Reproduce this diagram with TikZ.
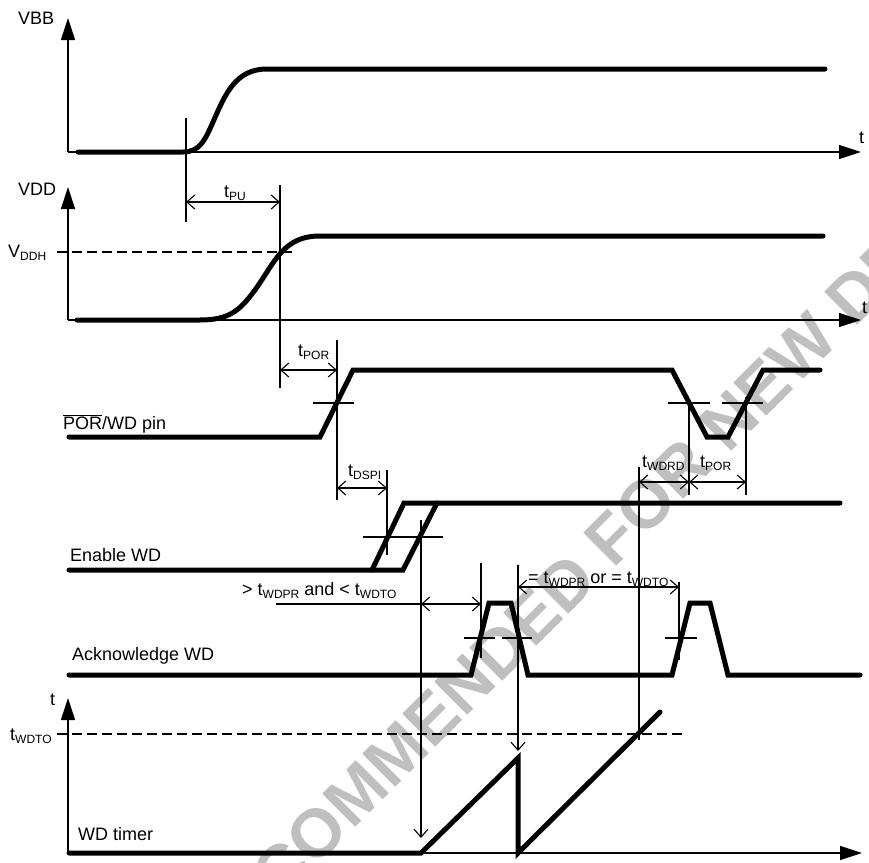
\documentclass[tikz,border=0pt]{standalone}
\usepackage{fontspec}
\setmainfont{Liberation Sans}
\usetikzlibrary{arrows.meta}

\newcommand{\lowsub}[1]{\raisebox{-3pt}{\fontsize{12}{12}\selectfont #1}}
\newcommand{\tsub}[1]{t\lowsub{#1}}

\begin{document}
\begin{tikzpicture}[x=1pt, y=-1pt,
    signal/.style={line width=5pt, line cap=round, line join=miter},
    axis/.style={line width=1.3pt, -{Triangle[length=22pt, width=14pt]}},
    guide/.style={line width=1.1pt},
    dim/.style={line width=1.1pt, {Straight Barb[length=8pt, width=14pt]}-{Straight Barb[length=8pt, width=14pt]}},
    drop/.style={line width=1.1pt, -{Straight Barb[length=8pt, width=14pt]}},
    level/.style={line width=2pt, dash pattern=on 10pt off 5pt},
    lbl/.style={anchor=base west, inner sep=0pt, font=\fontsize{18}{21}\selectfont}
]
    \useasboundingbox (0,0) rectangle (869,862);

    % Watermark
    \begin{scope}
        \clip (0,0) rectangle (869,862);
        \node[rotate=45, text=black!25, font=\fontsize{68}{68}\selectfont\bfseries] (wmark) at (552,598) {NOT RECOMMENDED FOR NEW DESIGN};
    \end{scope}

    % Axes
    \coordinate (o1) at (68,152);
    \coordinate (o2) at (68,320);
    \coordinate (o3) at (68,853);
    \draw[axis] (o1) -- (68,18);
    \draw[axis] (o1) -- (861,152);
    \draw[axis] (o2) -- (68,187);
    \draw[axis] (o2) -- (861,320);
    \draw[axis] (o3) -- (68,698);
    \draw[axis] (o3) -- (862,853);

    \node[lbl] (vbb) at (18,24) {VBB};
    \node[lbl] (vdd) at (18,195) {VDD};
    \node[lbl] (vddh) at (8,257) {V\lowsub{DDH}};
    \node[lbl] (t-vbb) at (859,143) {t};
    \node[lbl] (t-vdd) at (862,313) {t};
    \node[lbl] (t-tmr) at (50,705) {t};
    \node[lbl] (wdto) at (10,740) {\tsub{WDTO}};

    % Thresholds
    \draw[level] (57,252) -- (295,252);
    \draw[level] (57,734) -- (686,734);

    % Signals
    \draw[signal] (78,152) -- (183,152) .. controls (200,152) and (205,140) .. (213,122)
        .. controls (225,95) and (235,69) .. (267,69) -- (825,69);
    \draw[signal] (77,320) -- (200,320) .. controls (230,320) and (240,310) .. (255,290)
        .. controls (275,262) and (283,236) .. (320,236) -- (823,236);
    \draw[signal] (69,437) -- (320,437) -- (353,370) -- (672,370) -- (707,437)
        -- (728,437) -- (763,370) -- (820,370);
    \draw[signal] (69,570) -- (403,570) -- (437,503);
    \draw[signal] (372,570) -- (404,503) -- (840,503);
    \draw[signal] (69,675) -- (471,675) -- (489,603) -- (511,603) -- (528,675)
        -- (672,675) -- (690,603) -- (710,603) -- (728,675) -- (860,675);
    \draw[signal] (69,853) -- (421,853) -- (518,758) -- (518,853) -- (660,712);

    \node[lbl] (por-pin) at (63,429) {$\overline{\mbox{POR}}$/WD pin};
    \node[lbl] (en-wd) at (70,561) {Enable WD};
    \node[lbl] (ack-wd) at (72,660) {Acknowledge WD};
    \node[lbl] (wd-tmr) at (78,840) {WD timer};

    % Power-up timing
    \coordinate (pu-top) at (186,118);  \coordinate (pu-bot) at (186,222);
    \coordinate (vh-top) at (280,185);  \coordinate (vh-bot) at (280,388);
    \coordinate (pu-a) at (186,202);    \coordinate (pu-b) at (280,202);
    \draw[guide] (pu-top) -- (pu-bot);
    \draw[guide] (vh-top) -- (vh-bot);
    \draw[dim] (pu-a) -- (pu-b);
    \node[lbl] (t-pu) at (224,197) {\tsub{PU}};

    % Reset release
    \coordinate (rs-top) at (337,340);  \coordinate (rs-bot) at (337,500);
    \coordinate (por-a) at (280,370);   \coordinate (por-b) at (337,370);
    \draw[guide] (rs-top) -- (rs-bot);
    \draw[guide] (313,403) -- (354,403);
    \draw[dim] (por-a) -- (por-b);
    \node[lbl] (t-por) at (298,356) {\tsub{POR}};

    % SPI enable
    \coordinate (sp-top) at (387,470);  \coordinate (sp-bot) at (387,555);
    \coordinate (sp-a) at (337,488);    \coordinate (sp-b) at (387,488);
    \draw[guide] (sp-top) -- (sp-bot);
    \draw[guide] (363,537) -- (443,537);
    \draw[dim] (sp-a) -- (sp-b);
    \node[lbl] (t-dspi) at (348,476) {\tsub{DSPI}};

    \coordinate (en-top) at (421,520);  \coordinate (en-bot) at (421,838);
    \draw[drop] (en-top) -- (en-bot);

    % First acknowledge
    \coordinate (lead) at (276,604);
    \coordinate (win-a) at (421,604);   \coordinate (win-b) at (481,604);
    \coordinate (ak1-top) at (481,563); \coordinate (ak1-bot) at (481,658);
    \draw[guide] (lead) -- (win-a);
    \draw[dim] (win-a) -- (win-b);
    \draw[guide] (ak1-top) -- (ak1-bot);
    \draw[guide] (464,638) -- (495,638);
    \draw[guide] (502,638) -- (532,638);
    \node[lbl] (win) at (242,595) {> \tsub{WDPR} and < \tsub{WDTO}};

    \coordinate (rst-top) at (518,565); \coordinate (rst-bot) at (518,751);
    \draw[drop] (rst-top) -- (rst-bot);

    % Second acknowledge
    \coordinate (per-a) at (518,587);   \coordinate (per-b) at (679,587);
    \coordinate (ak2-top) at (679,582); \coordinate (ak2-bot) at (679,660);
    \draw[dim] (per-a) -- (per-b);
    \draw[guide] (ak2-top) -- (ak2-bot);
    \draw[guide] (665,638) -- (697,638);
    \node[lbl] (per) at (528,583) {= \tsub{WDPR} or = \tsub{WDTO}};

    % Watchdog reset
    \coordinate (to-top) at (639,467);  \coordinate (to-bot) at (639,740);
    \coordinate (dn-top) at (689,403);  \coordinate (dn-bot) at (689,495);
    \coordinate (up-top) at (746,397);  \coordinate (up-bot) at (746,495);
    \coordinate (rd-a) at (639,482);    \coordinate (rd-b) at (689,482);
    \coordinate (rd-c) at (746,482);
    \draw[guide] (to-top) -- (to-bot);
    \draw[guide] (dn-top) -- (dn-bot);
    \draw[guide] (up-top) -- (up-bot);
    \draw[guide] (668,403) -- (710,403);
    \draw[guide] (722,403) -- (763,403);
    \draw[dim] (rd-a) -- (rd-b);
    \draw[dim] (rd-b) -- (rd-c);
    \node[lbl] (t-wdrd) at (642,467) {\tsub{WDRD}};
    \node[lbl] (t-por2) at (700,467) {\tsub{POR}};
\end{tikzpicture}
\end{document}
